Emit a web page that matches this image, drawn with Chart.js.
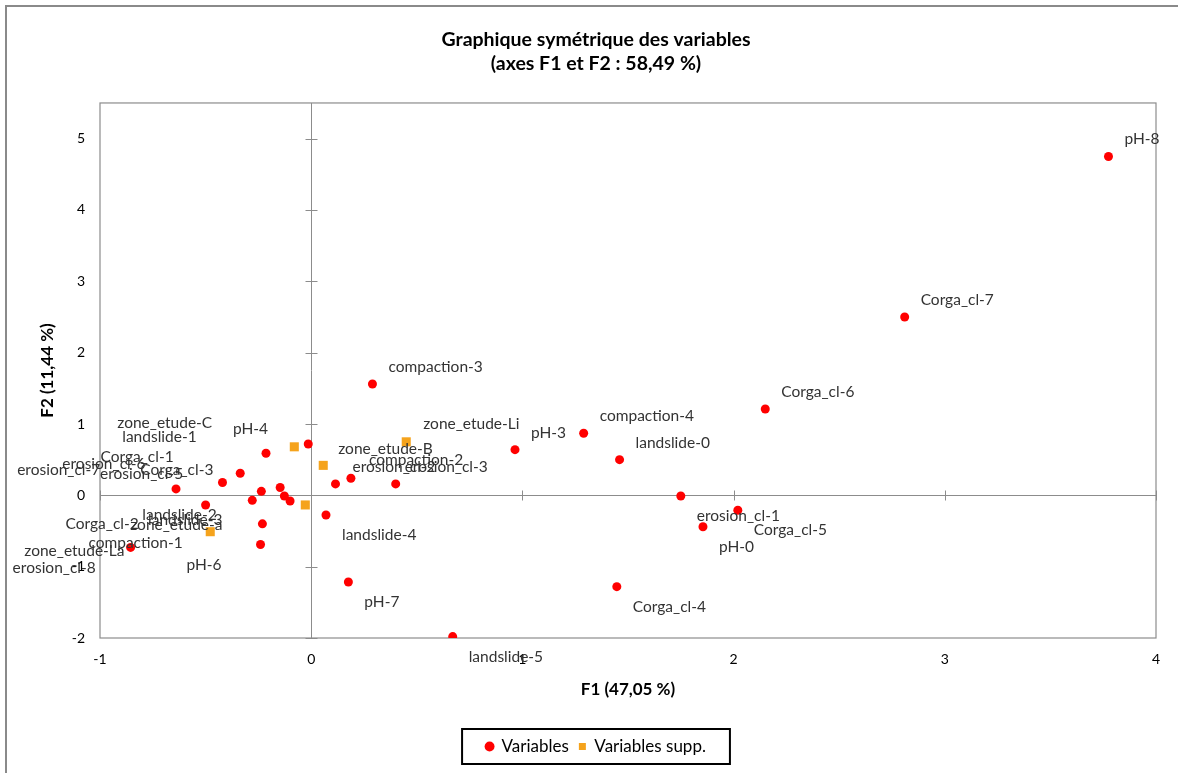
<!DOCTYPE html>
<html>
<head>
<meta charset="utf-8">
<script src="https://cdn.jsdelivr.net/npm/chart.js@4"></script>
<style>
  body{margin:0;background:#fff}
  #wrap{width:1178px;height:773px}
</style>
</head>
<body>
<div id="wrap"><canvas id="chart" width="1178" height="773"></canvas></div>
<script>
// active variables
const varLabels = ["pH-8","Corga_cl-7","Corga_cl-6","compaction-3","compaction-4","landslide-0","pH-3",
  "erosion_cl-1","Corga_cl-5","pH-0","Corga_cl-4","pH-7","landslide-5",
  "compaction-2","erosion_cl-2","erosion_cl-3","landslide-4",
  "landslide-1","pH-4","Corga_cl-3","Corga_cl-1","erosion_cl-5","erosion_cl-6","erosion_cl-7","",
  "landslide-3","landslide-2","Corga_cl-2","compaction-1","pH-6","erosion_cl-8"];
const varX = [3.775,2.81,2.15,0.29,1.29,1.46,0.965,
  1.75,2.02,1.855,1.447,0.176,0.67,
  0.188,0.115,0.40,0.07,
  -0.014,-0.214,-0.336,-0.42,-0.64,-0.236,-0.147,-0.127,
  -0.10,-0.279,-0.50,-0.231,-0.24,-0.855];
const varY = [4.75,2.50,1.21,1.56,0.87,0.50,0.64,
  -0.01,-0.21,-0.44,-1.28,-1.215,-1.98,
  0.24,0.16,0.16,-0.275,
  0.72,0.59,0.31,0.18,0.09,0.056,0.11,-0.01,
  -0.08,-0.07,-0.135,-0.40,-0.69,-0.73];

// supplementary variables
const suppLabels = ["zone_etude-C","zone_etude-B","zone_etude-Li","zone_etude-La","zone_etude-a"];
const suppX = [-0.08,0.057,0.45,-0.028,-0.478];
const suppY = [0.68,0.42,0.75,-0.135,-0.51];

const xTicks = [-1,0,1,2,3,4];
const yTicks = [-2,-1,0,1,2,3,4,5];

// label placement (pixel offset of text start / middle from the point)
const NE = [16,-17], SE = [16,20];
const varLabelOffsets = [NE,NE,NE,NE,NE,NE,NE,
  SE,SE,SE,SE,SE,SE,
  [18,-18],[17,-17],[9,-17],SE,
  [-186,-7],[-33,-24],[-100,-3],[-122,-25],[-76,-15],[-199,-27],[-263,-17],[0,0],
  [-142,19],[-110,15],[-140,19],[-174,19],[-74,20],[-118,21]];
const suppLabelOffsets = [[-177,-24],[15,-16],[17,-18],[-281,46],[-80,-7]];

const FONT = "Lato, 'Open Sans', sans-serif";
const RED = "#ff0000", ORANGE = "#f5a31c", GREY = "#8c8c8c";

const framePlugin = {
  id: "frame",
  beforeDraw(c){
    const ctx = c.ctx;
    ctx.save();
    ctx.fillStyle = "#fff";
    ctx.fillRect(0,0,c.width,c.height);
    ctx.restore();
  },
  beforeDatasetsDraw(c){
    const {ctx, chartArea:a, scales:{x,y}} = c;
    ctx.save();
    ctx.strokeStyle = GREY;
    ctx.lineWidth = 1.2;
    ctx.strokeRect(a.left, a.top, a.right-a.left, a.bottom-a.top);
    const x0 = Math.round(x.getPixelForValue(0))+0.5;
    const y0 = Math.round(y.getPixelForValue(0))+0.5;
    ctx.lineWidth = 1;
    ctx.beginPath();
    ctx.moveTo(a.left, y0); ctx.lineTo(a.right, y0);
    ctx.moveTo(x0, a.top); ctx.lineTo(x0, a.bottom);
    xTicks.forEach(v=>{
      const px = Math.round(x.getPixelForValue(v))+0.5;
      ctx.moveTo(px, y0-5); ctx.lineTo(px, y0+5);
    });
    yTicks.forEach(v=>{
      const py = Math.round(y.getPixelForValue(v))+0.5;
      ctx.moveTo(x0-6, py); ctx.lineTo(x0+6, py);
    });
    ctx.stroke();
    ctx.restore();
  },
  afterDatasetsDraw(c){
    const ctx = c.ctx;
    ctx.save();
    ctx.font = "15.5px " + FONT;
    ctx.fillStyle = "#333";
    ctx.textBaseline = "middle";
    ctx.textAlign = "left";
    const offs = [varLabelOffsets, suppLabelOffsets];
    c.data.datasets.forEach((ds,i)=>{
      const meta = c.getDatasetMeta(i);
      meta.data.forEach((pt,j)=>{
        const t = ds.labels[j];
        if(!t) return;
        const o = offs[i][j];
        ctx.fillText(t, pt.x + o[0], pt.y + o[1]);
      });
    });
    ctx.restore();
  },
  afterDraw(c){
    const ctx = c.ctx;
    const lg = c.legend;
    ctx.save();
    if(lg && lg.legendHitBoxes.length){
      const hb = lg.legendHitBoxes;
      const l = Math.min(...hb.map(h=>h.left)) - 24;
      const r = Math.max(...hb.map(h=>h.left+h.width)) + 24;
      const t = Math.min(...hb.map(h=>h.top)) - 9;
      const b = Math.max(...hb.map(h=>h.top+h.height)) + 9;
      ctx.strokeStyle = "#000";
      ctx.lineWidth = 2;
      ctx.strokeRect(l, t, r-l, b-t);
    }
    ctx.strokeStyle = "#8a8a8a";
    ctx.lineWidth = 2;
    ctx.strokeRect(6, 6, c.width+20, c.height+20);
    ctx.restore();
  }
};

const chart = new Chart(document.getElementById("chart"), {
  type: "scatter",
  data: {
    datasets: [
      {
        label: "Variables",
        data: varX.map((v,i)=>({x:v, y:varY[i]})),
        labels: varLabels,
        backgroundColor: RED,
        borderColor: RED,
        borderWidth: 0,
        pointStyle: "circle",
        pointRadius: 4.5,
        pointHoverRadius: 4.5
      },
      {
        label: "Variables supp.",
        data: suppX.map((v,i)=>({x:v, y:suppY[i]})),
        labels: suppLabels,
        backgroundColor: ORANGE,
        borderColor: ORANGE,
        borderWidth: 0,
        pointStyle: "rect",
        pointRadius: 6.4,
        pointHoverRadius: 6.4
      }
    ]
  },
  options: {
    responsive: false,
    devicePixelRatio: 1,
    animation: false,
    layout: {padding: {left: 36, right: 22, top: 0, bottom: 8}},
    plugins: {
      tooltip: {enabled: false},
      title: {
        display: true,
        text: ["Graphique symétrique des variables", "(axes F1 et F2 : 58,49 %)"],
        color: "#000",
        font: {family: FONT, size: 19.5, weight: "bold", lineHeight: 1.23},
        padding: {top: 28, bottom: 27}
      },
      legend: {
        position: "bottom",
        labels: {
          usePointStyle: true,
          boxWidth: 7,
          boxHeight: 7,
          padding: 10,
          color: "#000",
          font: {family: FONT, size: 17}
        }
      }
    },
    scales: {
      x: {
        type: "linear",
        min: -1, max: 4,
        grid: {display: false, drawTicks: false},
        border: {display: false},
        afterBuildTicks: s => { s.ticks = xTicks.map(v=>({value:v})); },
        afterFit: s => { s.height = s.chart.height - 638 - s.chart.legend.height - 8; },
        ticks: {color: "#000", font: {family: FONT, size: 14}, padding: 13},
        title: {display: true, text: "F1 (47,05 %)", color: "#000",
          font: {family: FONT, size: 17, weight: "bold"}, padding: {top: 0, bottom: 28}}
      },
      y: {
        type: "linear",
        min: -2, max: 5.5,
        grid: {display: false, drawTicks: false},
        border: {display: false},
        afterBuildTicks: s => { s.ticks = yTicks.map(v=>({value:v})); },
        afterFit: s => { s.width = 64; },
        ticks: {color: "#000", font: {family: FONT, size: 14}, padding: 15},
        title: {display: true, text: "F2 (11,44 %)", color: "#000",
          font: {family: FONT, size: 17, weight: "bold"}, padding: {top: 1, bottom: 0}}
      }
    }
  },
  plugins: [framePlugin]
});
</script>
</body>
</html>
